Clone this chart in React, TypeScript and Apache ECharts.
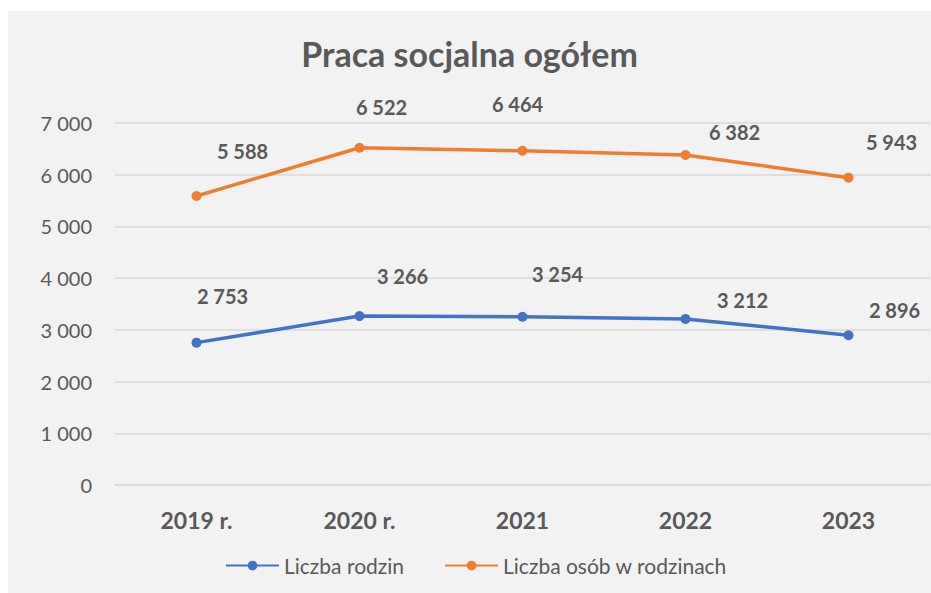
import React, { useEffect, useRef } from "react";
import * as echarts from "echarts";

const categories = ["2019 r.", "2020 r.", "2021", "2022", "2023"];
const rodzinValues = [2753, 3266, 3254, 3212, 2896];
const osobValues = [5588, 6522, 6464, 6382, 5943];
const yTicks = { min: 0, max: 7000, interval: 1000 };

// label offsets (styling only, relative to each point)
const rodzinLabelOffsets = [[26, -47], [43, -40], [35, -43], [57, -19], [46, -25]];
const osobLabelOffsets = [[46, -45], [22, -41], [-5, -47], [49, -23], [43, -36]];

const FONT = "Lato, 'Open Sans', sans-serif";
const GRAY = "#595959";

const fmt = (v: number) => String(v).replace(/\B(?=(\d{3})+(?!\d))/g, " ");

export default function App() {
  const ref = useRef<HTMLDivElement>(null);
  useEffect(() => {
    if (!ref.current) return;
    const chart = echarts.init(ref.current, null, { renderer: "svg" });
    const mkData = (vals: number[], offs: number[][]) =>
      vals.map((v, i) => ({ value: v, label: { offset: offs[i] } }));
    const labelStyle = {
      show: true,
      position: "inside" as const,
      formatter: (p: any) => fmt(p.value),
      fontFamily: FONT,
      fontSize: 20,
      fontWeight: "bold" as const,
      color: GRAY,
    };
    chart.setOption({
      animation: false,
      backgroundColor: "#f2f2f2",
      textStyle: { fontFamily: FONT },
      title: {
        text: "Praca socjalna ogółem",
        left: "center",
        top: 20,
        padding: [5, 5, 5, 17],
        textStyle: { fontFamily: FONT, fontSize: 34, fontWeight: "bold", color: GRAY },
      },
      grid: { left: 107, right: 1, top: 112, bottom: 108, containLabel: false },
      legend: {
        left: 212,
        top: 539,
        itemWidth: 53,
        itemHeight: 12,
        itemGap: 40,
        textStyle: { fontFamily: FONT, fontSize: 21, color: GRAY },
        data: ["Liczba rodzin", "Liczba osób w rodzinach"],
      },
      xAxis: {
        type: "category",
        data: categories,
        axisLine: { lineStyle: { color: "#d9d9d9", width: 1.5 } },
        axisTick: { show: false },
        axisLabel: { margin: 23, fontFamily: FONT, fontSize: 23, fontWeight: "bold", color: GRAY },
      },
      yAxis: {
        type: "value",
        min: yTicks.min,
        max: yTicks.max,
        interval: yTicks.interval,
        axisLine: { show: false },
        axisTick: { show: false },
        splitLine: { lineStyle: { color: "#d9d9d9", width: 1.5 } },
        axisLabel: { margin: 23, fontFamily: FONT, fontSize: 20, color: GRAY, formatter: (v: number) => fmt(v) },
      },
      series: [
        {
          name: "Liczba rodzin",
          type: "line",
          data: mkData(rodzinValues, rodzinLabelOffsets),
          color: "#4472C4",
          lineStyle: { width: 3.5, color: "#4472C4" },
          symbol: "circle",
          symbolSize: 10,
          label: labelStyle,
        },
        {
          name: "Liczba osób w rodzinach",
          type: "line",
          data: mkData(osobValues, osobLabelOffsets),
          color: "#ED7D31",
          lineStyle: { width: 3.5, color: "#ED7D31" },
          symbol: "circle",
          symbolSize: 10,
          label: labelStyle,
        },
      ],
    });
    return () => chart.dispose();
  }, []);
  return (
    <div
      ref={ref}
      style={{ position: "fixed", left: 8, top: 11, width: 923, height: 582 }}
    />
  );
}
